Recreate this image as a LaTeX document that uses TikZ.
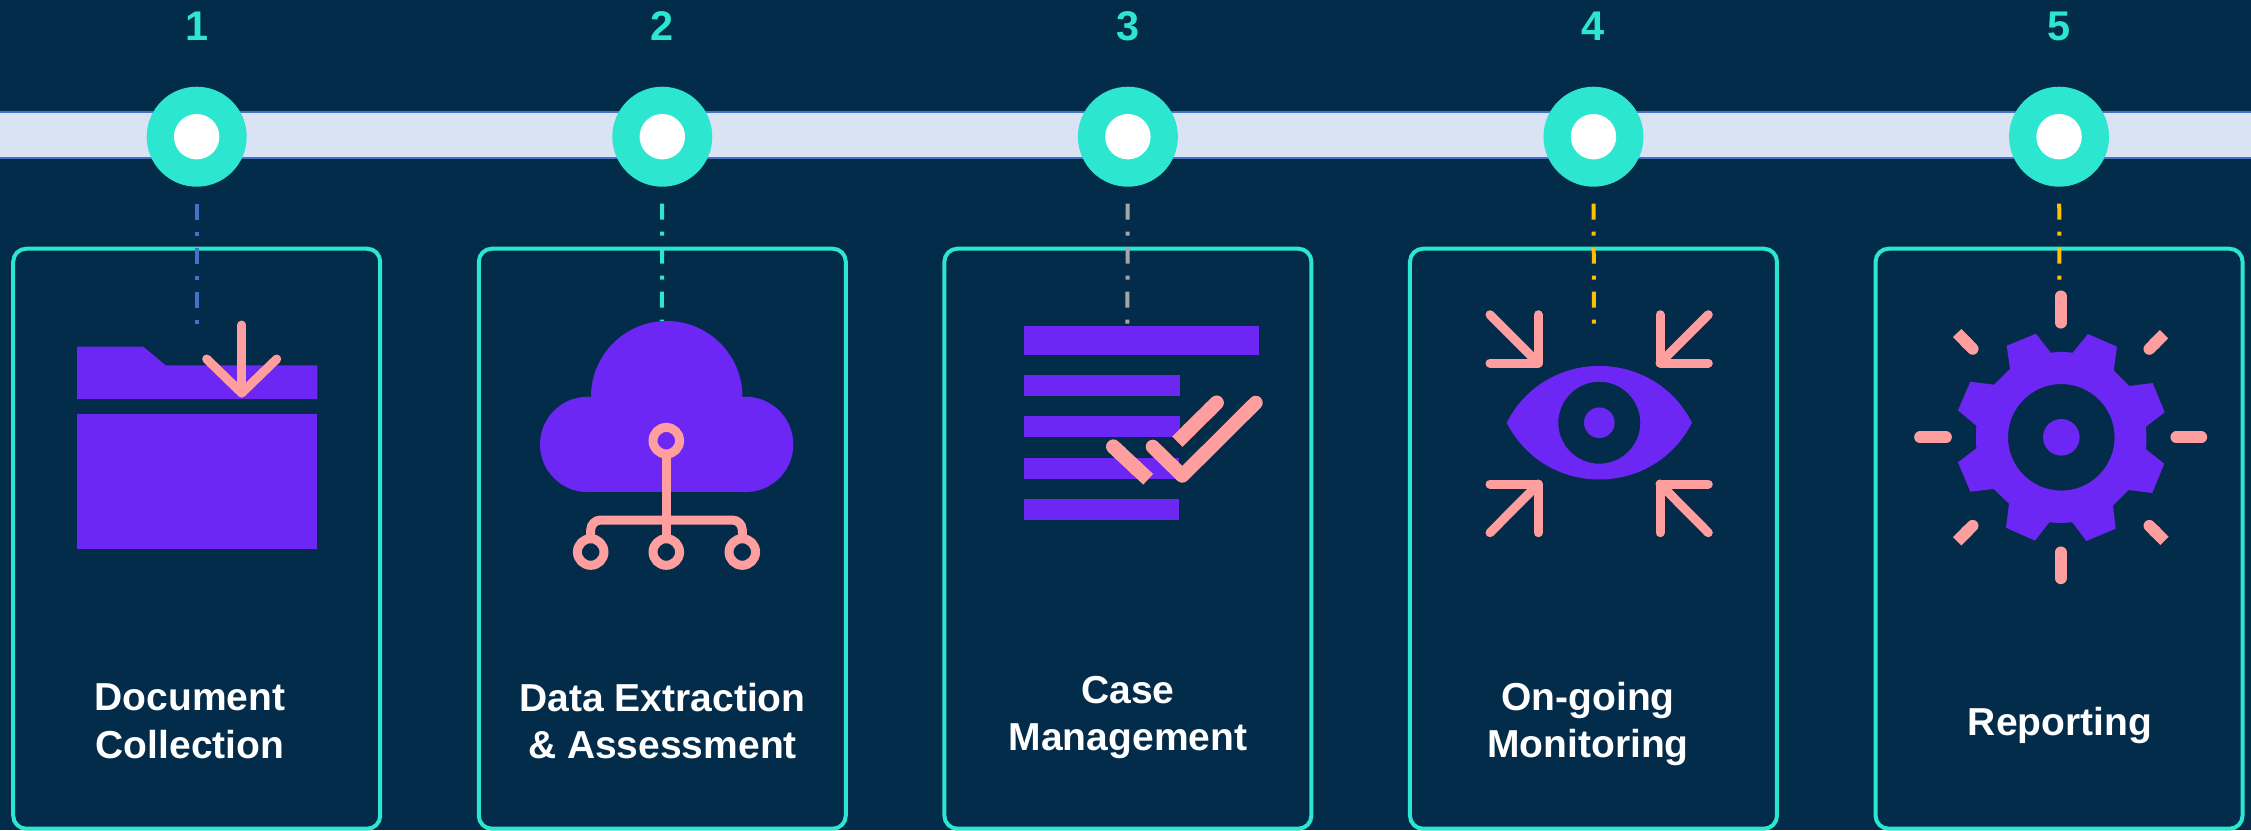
\documentclass[tikz,border=0pt]{standalone}
\usepackage{fontspec}
\setmainfont{Liberation Sans}
\usetikzlibrary{arrows.meta, positioning}
\definecolor{navy}{HTML}{032B4A}
\definecolor{teal}{HTML}{2DE6CF}
\definecolor{railfill}{HTML}{DAE3F3}
\definecolor{railedge}{HTML}{4472C4}
\definecolor{violet}{HTML}{6C27F5}
\definecolor{salmon}{HTML}{FF9E9E}
\definecolor{stone}{HTML}{A5A5A5}
\definecolor{amber}{HTML}{FFC000}

\begin{document}
\begin{tikzpicture}[
  x=0.1mm, y=-0.1mm,
  ringnode/.style={circle, fill=teal, minimum size=10mm, inner sep=0pt, outer sep=0pt},
  hub/.style={circle, fill=white, minimum size=4.54mm, inner sep=0pt, outer sep=0pt},
  num/.style={text=teal, inner sep=0pt, font=\bfseries\fontsize{11.8}{14}\selectfont},
  card/.style={draw=teal, line width=0.4mm, rounded corners=1.3mm, minimum width=36.7mm,
               minimum height=58mm, inner sep=0pt, outer sep=0pt},
  cardtext/.style={text=white, align=center, inner sep=0pt, font=\bfseries\fontsize{11.1}{13.6}\selectfont},
  leader/.style={line width=0.4mm, shorten <=1.7mm, dash pattern=on 1.6mm off 1.2mm on 0.4mm off 1.2mm},
  pinkline/.style={draw=salmon, line width=0.9mm, line cap=round, line join=round},
  ray/.style={draw=salmon, line width=1.17mm, {Round Cap}-{Butt Cap}},
  tick/.style={draw=salmon, line width=1.45mm, {Round Cap}-{Butt Cap}},
]
  \useasboundingbox (0,0) rectangle (2251,830);
  \fill[navy] (0,0) rectangle (2251,830);

  \node[draw=railedge, fill=railfill, line width=0.15mm, minimum width=228mm, minimum height=4.6mm,
        inner sep=0pt, outer sep=0pt] (rail) at (1125.5,135) {};

  \node[ringnode] (ring1) at (196.7,136.7) {};
  \node[ringnode, right=36.56mm of ring1] (ring2) {};
  \node[ringnode, right=36.56mm of ring2] (ring3) {};
  \node[ringnode, right=36.56mm of ring3] (ring4) {};
  \node[ringnode, right=36.56mm of ring4] (ring5) {};
  \node[hub] (hub1) at (ring1) {};
  \node[hub] (hub2) at (ring2) {};
  \node[hub] (hub3) at (ring3) {};
  \node[hub] (hub4) at (ring4) {};
  \node[hub] (hub5) at (ring5) {};

  \node[num] (num1) at (196.7,26) {1};
  \node[num] (num2) at (662,26) {2};
  \node[num] (num3) at (1128,26) {3};
  \node[num] (num4) at (1593.5,26) {4};
  \node[num] (num5) at (2059.5,26) {5};

  \node[card, below=6.2mm of ring1] (card1) {};
  \node[card, below=6.2mm of ring2] (card2) {};
  \node[card, below=6.2mm of ring3] (card3) {};
  \node[card, below=6.2mm of ring4] (card4) {};
  \node[card, below=6.2mm of ring5] (card5) {};

  \coordinate (tip1) at (196.7,325);
  \coordinate (tip2) at (661.9,325);
  \coordinate (tip3) at (1127.4,325);
  \coordinate (tip4) at (1593.9,325);
  \coordinate (tip5) at (2059.4,281);
  \draw[leader, railedge] (ring1) -- (tip1);
  \draw[leader, teal] (ring2) -- (tip2);
  \draw[leader, stone] (ring3) -- (tip3);
  \draw[leader, amber] (ring4) -- (tip4);
  \draw[leader, amber] (ring5) -- (tip5);

  % folder
  \fill[violet] (77,346.7) -- (143.3,346.7) -- (165.7,365.3) -- (317.3,365.3) -- (317.3,399) -- (77,399) -- cycle;
  \fill[violet] (77,413.7) rectangle (317.3,548.7);
  \draw[pinkline] (241.7,325) -- (241.7,393);
  \draw[pinkline] (206.7,359) -- (241.7,393) -- (276.7,359);

  % cloud
  \fill[violet] (666.7,396.7) circle (75.7);
  \fill[violet] (587.7,444.4) circle (47.7);
  \fill[violet] (745.6,444.4) circle (47.7);
  \fill[violet] (587.7,396.7) rectangle (745.6,492.1);
  \draw[pinkline] (666.3,440.7) circle (13.3);
  \draw[pinkline] (590.7,552) circle (13.3);
  \draw[pinkline] (666.3,552) circle (13.3);
  \draw[pinkline] (742.3,552) circle (13.3);
  \draw[pinkline] (666.3,454) -- (666.3,538.7);
  \draw[pinkline, rounded corners=1mm] (590.7,538.7) -- (590.7,520) -- (742.3,520) -- (742.3,538.7);

  % list with checks
  \fill[violet] (1024.3,326) rectangle (1258.7,354.7);
  \fill[violet] (1024.3,375) rectangle (1180,396);
  \fill[violet] (1024.3,416.3) rectangle (1180,437);
  \fill[violet] (1024,458) rectangle (1179,478.7);
  \fill[violet] (1024,499) rectangle (1179,520);
  \draw[pinkline, line width=1.4mm] (1152.7,446.7) -- (1182.3,475.7) -- (1255.7,402.7);
  \draw[tick] (1221.8,397.6) -- (1177.3,441.7);
  \draw[tick] (1108,441.7) -- (1148.2,479.3);

  % eye
  \fill[violet, even odd rule] (1506.7,422.7) .. controls (1545.3,347) and (1653.4,347) .. (1692,422.7)
    .. controls (1653.4,498.4) and (1545.3,498.4) .. (1506.7,422.7) (1599.3,422.7) circle (41);
  \fill[violet] (1599.3,422.7) circle (15.3);
  \draw[pinkline] (1490,314.7) -- (1538.3,363);
  \draw[pinkline] (1538.3,314.7) -- (1538.3,363) -- (1490,363);
  \draw[pinkline] (1708.3,314.7) -- (1660,363);
  \draw[pinkline] (1660,314.7) -- (1660,363) -- (1708.3,363);
  \draw[pinkline] (1490,532.7) -- (1538.3,484);
  \draw[pinkline] (1490,484) -- (1538.3,484) -- (1538.3,532.7);
  \draw[pinkline] (1708.3,532.7) -- (1660,484);
  \draw[pinkline] (1708.3,484) -- (1660,484) -- (1660,532.7);

  % gear
  \fill[violet, even odd rule] (2036,333.7) -- (2050.7,352.7) -- (2061,351.7) -- (2072.7,352.7) -- (2088,334) -- (2117,346.7)
    -- (2113.7,370.3) -- (2129.3,386) -- (2152.7,383) -- (2164.7,412.3) -- (2146,426.7) -- (2146.5,438) -- (2146,449.3)
    -- (2164.3,463.7) -- (2152.3,493) -- (2128.7,490) -- (2113,505.7) -- (2115.7,528.7) -- (2086.3,541)
    -- (2072.3,522.3) -- (2061,523) -- (2049.3,522.3) -- (2035,540.7) -- (2006,527.7) -- (2009,503.7) -- (1993.7,489)
    -- (1970.3,491.7) -- (1958,462.3) -- (1976.3,448.3) -- (1976,437) -- (1976.3,425.7) -- (1958,410.3) -- (1970.3,381.7)
    -- (1994,384.7) -- (2010,369) -- (2006.7,345.7) -- cycle (2061.3,437.3) circle (53.3);
  \fill[violet] (2061.3,437.3) circle (18.3);
  \draw[ray, line cap=round, -] (2060.7,296.3) -- (2060.7,322.7);
  \draw[ray, line cap=round, -] (2060.7,552.3) -- (2060.7,578.3);
  \draw[ray, line cap=round, -] (1920,437.3) -- (1946,437.3);
  \draw[ray, line cap=round, -] (2176.3,437.3) -- (2201.3,437.3);
  \draw[ray] (1976.8,353.1) -- (1957.2,333);
  \draw[ray] (1976.8,521.6) -- (1957.2,541.3);
  \draw[ray] (2145.2,353.1) -- (2164,334.2);
  \draw[ray] (2145.2,521.6) -- (2164.5,540.8);

  \node[cardtext] (text1) at (190,721) {Document\\Collection};
  \node[cardtext] (text2) at (662.5,721) {Data Extraction\\\& Assessment};
  \node[cardtext] (text3) at (1128,717.5) {Case\\Management};
  \node[cardtext] (text4) at (1588,724) {On-going\\Monitoring};
  \node[cardtext] (text5) at (2060,725) {Reporting};
\end{tikzpicture}
\end{document}
